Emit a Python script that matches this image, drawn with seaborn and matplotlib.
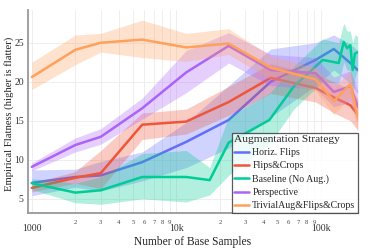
import numpy as np
import matplotlib
matplotlib.use("Agg")
import matplotlib.pyplot as plt
import matplotlib.ticker as mticker
import seaborn as sns

# sample counts shared by most strategies
samples = [1000, 2000, 3000, 5800, 11700, 23000, 45000, 92000, 123000, 160000, 180000]

flips_mean = [7.05, 7.8, 8.0, 9.7, 12.3, 15.1, 20.0, 22.8, 24.2, 22.4, 21.5]
flips_lo = [5.4, 6.5, 6.0, 7.3, 9.0, 11.5, 15.5, 19.5, 21.5, 19.8, 18.5]
flips_hi = [8.7, 8.8, 9.8, 11.0, 14.8, 19.5, 24.2, 25.0, 26.0, 24.8, 24.0]

crops_mean = [6.4, 7.7, 8.3, 14.5, 14.9, 17.4, 20.5, 19.2, 18.0, 17.0, 15.8]
crops_lo = [5.9, 7.0, 6.3, 12.6, 13.3, 15.7, 18.5, 17.4, 16.0, 15.0, 13.8]
crops_hi = [7.0, 8.5, 11.2, 16.0, 16.5, 19.4, 22.3, 21.0, 20.0, 19.0, 17.8]

persp_mean = [9.1, 11.9, 12.95, 16.6, 21.2, 24.6, 21.5, 21.1, 18.7, 19.4, 16.8]
persp_lo = [8.6, 11.0, 12.0, 15.2, 18.6, 22.4, 19.5, 19.1, 16.8, 17.4, 14.8]
persp_hi = [9.6, 12.8, 14.0, 17.9, 24.0, 26.3, 23.5, 23.1, 20.6, 21.4, 18.8]

trivial_mean = [20.6, 24.1, 25.0, 25.4, 24.4, 24.9, 21.8, 20.3, 17.5, 19.7, 15.5]
trivial_lo = [19.0, 22.2, 23.8, 23.1, 22.6, 23.5, 20.3, 18.8, 15.8, 18.0, 13.5]
trivial_hi = [22.5, 26.0, 26.2, 27.9, 26.2, 26.8, 23.3, 21.8, 19.2, 21.4, 17.5]

# baseline has denser sampling near the top end
base_samples = [1000, 2000, 3000, 5800, 11700, 17000, 23000, 44000, 65000, 103000,
                133000, 144000, 152000, 160000, 166000, 172000, 180000]
base_mean = [7.0, 5.8, 6.1, 7.8, 7.8, 7.4, 12.2, 15.1, 19.4, 22.8,
             22.4, 25.1, 24.3, 24.7, 21.5, 23.6, 23.8]
base_lo = [6.2, 4.5, 4.3, 5.0, 4.6, 5.5, 8.0, 12.0, 16.5, 20.0,
           19.8, 22.5, 21.5, 21.5, 18.0, 20.5, 21.5]
base_hi = [7.6, 7.0, 7.8, 10.8, 11.2, 9.0, 15.5, 18.5, 22.0, 25.5,
           25.0, 27.5, 26.5, 26.5, 25.0, 26.0, 25.8]

series = [
    ("Horiz. Flips", "#636EFA", samples, flips_mean, flips_lo, flips_hi),
    ("Flips&Crops", "#EF553B", samples, crops_mean, crops_lo, crops_hi),
    ("Baseline (No Aug.)", "#00CC96", base_samples, base_mean, base_lo, base_hi),
    ("Perspective", "#AB63FA", samples, persp_mean, persp_lo, persp_hi),
    ("TrivialAug&Flips&Crops", "#FFA15A", samples, trivial_mean, trivial_lo, trivial_hi),
]

sns.set_theme(style="white")
plt.rcParams['font.family'] = ['Liberation Serif', 'DejaVu Serif']

fig = plt.figure(figsize=(3.73, 2.49), dpi=100)
ax = fig.add_axes([0.075, 0.145, 0.885, 0.815])

for i, (name, color, xs, m, lo, hi) in enumerate(series):
    ax.fill_between(xs, lo, hi, color=color, alpha=0.3, linewidth=0, zorder=2 + i)
    sns.lineplot(x=xs, y=m, ax=ax, color=color, linewidth=1.8, label=name,
                 zorder=2 + i, estimator=None)

ax.set_xscale("log")
ax.set_xlim(940, 181000)
ax.set_ylim(3.2, 29.2)
ax.set_yticks([5, 10, 15, 20, 25])

ax.xaxis.set_major_locator(mticker.FixedLocator([1000, 10000, 100000]))
ax.xaxis.set_major_formatter(mticker.FixedFormatter(["1000", "10k", "100k"]))
minor = [d * 10 ** k for k in (3, 4, 5) for d in range(2, 10)]
minor = [v for v in minor if v < 181000]
ax.xaxis.set_minor_locator(mticker.FixedLocator(minor))
ax.xaxis.set_minor_formatter(mticker.FixedFormatter([str(v)[0] for v in minor]))

ax.grid(True, which="both", axis="x", color="#eeeeee", linewidth=0.7, zorder=0)
ax.grid(True, which="major", axis="y", color="#eeeeee", linewidth=0.7, zorder=0)
ax.set_axisbelow(True)

ax.tick_params(axis="x", which="major", length=0, labelsize=7, pad=8, colors="#333333")
ax.tick_params(axis="x", which="minor", length=0, labelsize=4.8, pad=5, colors="#444444")
ax.tick_params(axis="y", length=0, labelsize=7, pad=3, colors="#333333")

for s in ("top", "right"):
    ax.spines[s].set_visible(False)
for s in ("left", "bottom"):
    ax.spines[s].set_color("#999999")
    ax.spines[s].set_linewidth(1.3)

ax.set_xlabel("Number of Base Samples", fontsize=8.3, color="#222222")
ax.xaxis.set_label_coords(0.5, -0.145)
ax.xaxis.label.set_va("center")
ax.set_ylabel("Empirical Flatness (higher is flatter)", fontsize=7.7, color="#222222")
ax.yaxis.set_label_coords(-0.058, 0.49)
ax.yaxis.label.set_va("center")

leg = ax.legend(title="Augmentation Strategy", loc="lower right", fontsize=7.1,
                title_fontsize=8.2, frameon=True, fancybox=False, borderpad=0.25,
                handlelength=1.5, handletextpad=0.35, labelspacing=0.42,
                borderaxespad=0.0, bbox_to_anchor=(1.0, 0.0))
leg.get_frame().set_edgecolor("#333333")
leg.get_frame().set_linewidth(0.9)
leg._legend_box.align = "left"
leg.set_zorder(20)

fig.savefig("out.png", dpi=100)
